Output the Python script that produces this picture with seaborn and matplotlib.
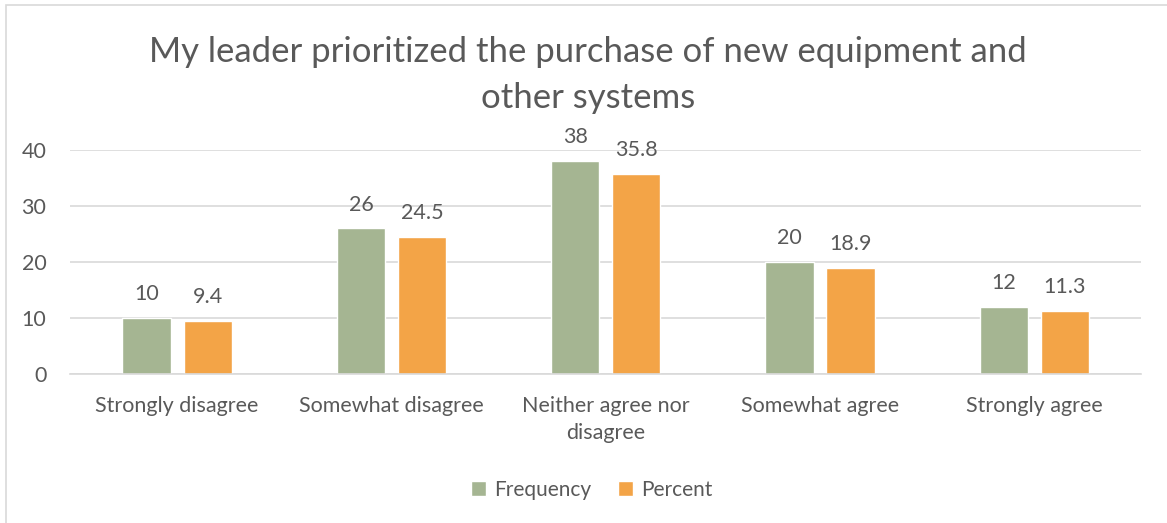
import matplotlib
matplotlib.use("Agg")
import matplotlib.pyplot as plt
import seaborn as sns
import pandas as pd
from matplotlib.patches import Rectangle

categories = ["Strongly disagree", "Somewhat disagree", "Neither agree nor\ndisagree",
              "Somewhat agree", "Strongly agree"]
frequency = [10, 26, 38, 20, 12]
percent = [9.4, 24.5, 35.8, 18.9, 11.3]
series = ["Frequency", "Percent"]
colors = ["#A5B592", "#F3A447"]
text_color = "#595959"

df = pd.DataFrame({
    "category": categories * 2,
    "value": frequency + percent,
    "series": [series[0]] * len(categories) + [series[1]] * len(categories),
})

sns.set_theme(style="white")
plt.rcParams["font.family"] = ["Lato", "DejaVu Sans"]

fig = plt.figure(figsize=(11.67, 5.23), dpi=100)
ax = fig.add_axes([0.060, 0.2849, 0.918, 0.4283])

sns.barplot(data=df, x="category", y="value", hue="series", order=categories,
            hue_order=series, palette=colors, width=0.57, gap=0.21,
            saturation=1, ax=ax, legend=True)

ax.set_ylim(0, 40)
ax.set_yticks([0, 10, 20, 30, 40])
ax.yaxis.grid(True, color="#D9D9D9", linewidth=1.2)
ax.set_axisbelow(True)
for s in ["top", "right", "left"]:
    ax.spines[s].set_visible(False)
ax.spines["bottom"].set_color("#D9D9D9")
ax.spines["bottom"].set_linewidth(1.2)
ax.tick_params(axis="both", length=0, labelsize=15.5, labelcolor=text_color)
ax.tick_params(axis="x", pad=16)
ax.tick_params(axis="y", pad=17)
for lbl in ax.get_xticklabels():
    lbl.set_linespacing(1.45)
ax.set_xlabel("")
ax.set_ylabel("")

for cont in ax.containers:
    ax.bar_label(cont, labels=[f"{v:g}" for v in cont.datavalues], padding=10,
                 fontsize=15.5, color=text_color)

leg = ax.legend(loc="center", bbox_to_anchor=(0.487, -0.516), ncol=2,
                frameon=False, fontsize=15, handlelength=0.7, handleheight=0.7,
                columnspacing=1.3, handletextpad=0.4)
for t in leg.get_texts():
    t.set_color(text_color)

fig.text(0.504, 0.856, "My leader prioritized the purchase of new equipment and\nother systems",
         ha="center", va="center", fontsize=25, color=text_color, linespacing=1.55)

fig.patches.append(Rectangle((6 / 1167, -0.1), 1.2, 1 - 5 / 523 + 0.1, transform=fig.transFigure,
                             fill=False, edgecolor="#D9D9D9", linewidth=1.2))

fig.savefig("out.png", dpi=100)
